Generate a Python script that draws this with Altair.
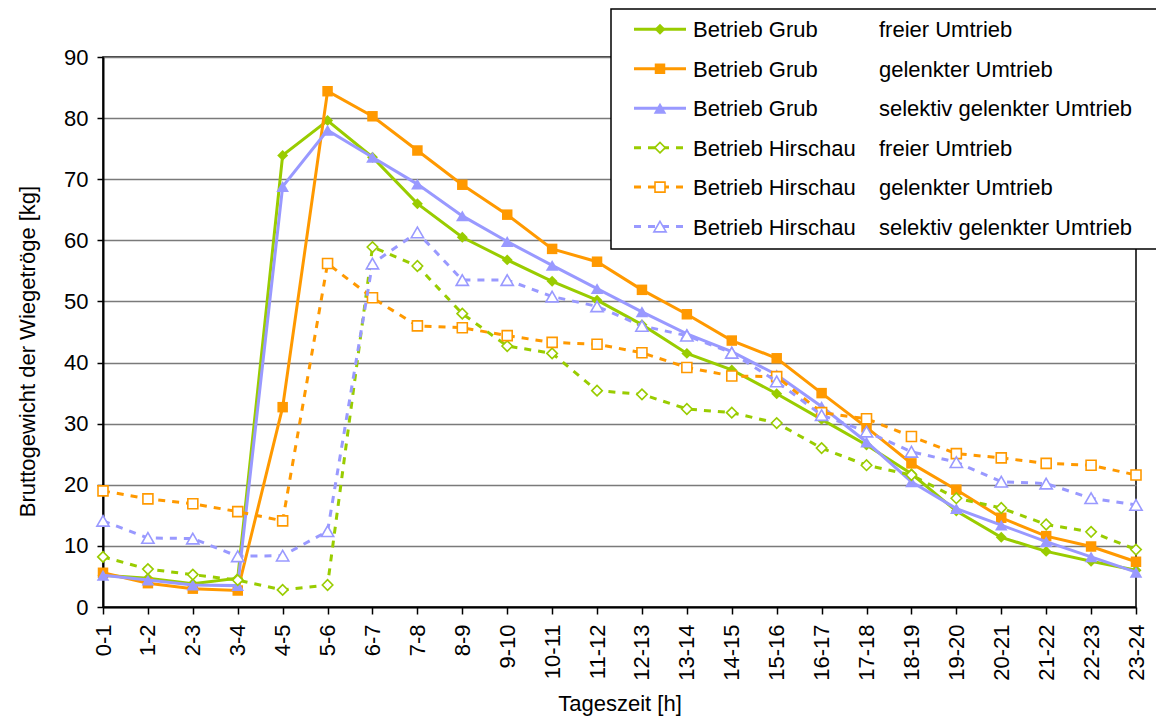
import altair as alt
import pandas as pd

# ---------------- data ----------------
categories = ["0-1", "1-2", "2-3", "3-4", "4-5", "5-6", "6-7", "7-8", "8-9", "9-10",
              "10-11", "11-12", "12-13", "13-14", "14-15", "15-16", "16-17", "17-18",
              "18-19", "19-20", "20-21", "21-22", "22-23", "23-24"]

betrieb = ["Betrieb Grub", "Betrieb Grub", "Betrieb Grub",
           "Betrieb Hirschau", "Betrieb Hirschau", "Betrieb Hirschau"]
umtrieb = ["freier Umtrieb", "gelenkter Umtrieb", "selektiv gelenkter Umtrieb",
           "freier Umtrieb", "gelenkter Umtrieb", "selektiv gelenkter Umtrieb"]

grub_frei = [5.2, 4.7, 3.8, 4.7, 73.9, 79.6, 73.6, 66.0, 60.5, 56.8, 53.3, 50.2,
             46.2, 41.5, 38.8, 34.9, 30.7, 26.5, 21.8, 15.7, 11.4, 9.1, 7.5, 6.0]
grub_gelenkt = [5.6, 3.9, 3.0, 2.7, 32.7, 84.4, 80.3, 74.7, 69.1, 64.2, 58.6, 56.5,
                51.9, 47.9, 43.6, 40.7, 35.0, 29.4, 23.5, 19.2, 14.6, 11.6, 9.9, 7.4]
grub_selektiv = [5.2, 4.4, 3.6, 3.5, 68.8, 78.0, 73.6, 69.2, 64.0, 59.8, 55.9, 52.1,
                 48.3, 44.7, 41.8, 38.0, 32.8, 27.0, 20.5, 16.1, 13.4, 10.7, 8.2, 5.7]
hirschau_frei = [8.2, 6.2, 5.3, 4.4, 2.8, 3.6, 58.9, 55.8, 48.0, 42.7, 41.5, 35.4,
                 34.8, 32.4, 31.8, 30.1, 26.0, 23.2, 21.6, 17.8, 16.2, 13.5, 12.3, 9.4]
hirschau_gelenkt = [19.0, 17.7, 16.9, 15.6, 14.1, 56.2, 50.6, 46.0, 45.7, 44.4, 43.3, 43.0,
                    41.6, 39.2, 37.8, 37.7, 31.8, 30.8, 27.9, 25.1, 24.4, 23.5, 23.2, 21.6]
hirschau_selektiv = [14.1, 11.3, 11.2, 8.3, 8.4, 12.4, 56.2, 61.3, 53.5, 53.5, 50.8, 49.2,
                     46.0, 44.4, 41.6, 36.9, 31.4, 28.7, 25.4, 23.7, 20.5, 20.2, 17.8, 16.7]

series_values = [grub_frei, grub_gelenkt, grub_selektiv,
                 hirschau_frei, hirschau_gelenkt, hirschau_selektiv]

# ---------------- styles ----------------
colors = ["#99CC00", "#FF9900", "#9999FF", "#99CC00", "#FF9900", "#9999FF"]
shapes = ["diamond", "square", "triangle-up", "diamond", "square", "triangle-up"]
sizes = [120, 110, 160, 110, 100, 150]
dashed = [False, False, False, True, True, True]
DASH = [7, 7]
FONT = "Liberation Sans"
FS = 22

W, H = 1033, 550

x_enc = alt.X("Tageszeit:N", sort=categories,
              scale=alt.Scale(type="point", padding=0, domain=categories),
              axis=alt.Axis(title="Tageszeit [h]", labelAngle=-90, tickSize=7,
                            labelPadding=10, titlePadding=13, grid=False))
y_enc = alt.Y("Wert:Q", scale=alt.Scale(domain=[0, 90], nice=False, zero=True),
              axis=alt.Axis(title="Bruttogewicht der Wiegetröge [kg]", values=list(range(0, 91, 10)),
                            tickSize=6, labelPadding=9, titlePadding=24, titleY=294,
                            grid=True, gridColor="#7a7a7a", gridWidth=1.5))

layers = []
for i, vals in enumerate(series_values):
    df = pd.DataFrame({"Tageszeit": categories, "Wert": vals,
                       "Serie": [betrieb[i] + " " + umtrieb[i]] * len(categories)})
    line_kw = dict(color=colors[i], strokeWidth=3)
    if dashed[i]:
        line_kw["strokeDash"] = DASH
    layers.append(alt.Chart(df).mark_line(**line_kw).encode(x=x_enc, y=y_enc))
    if dashed[i]:
        pt = alt.Chart(df).mark_point(shape=shapes[i], size=sizes[i], filled=True,
                                      fill="white", stroke=colors[i], strokeWidth=1.6,
                                      opacity=1)
    else:
        pt = alt.Chart(df).mark_point(shape=shapes[i], size=sizes[i], filled=True,
                                      color=colors[i], opacity=1)
    layers.append(pt.encode(x=x_enc, y=y_enc))

# ---------------- manual legend (two text columns) ----------------
one = pd.DataFrame({"k": [0]})
layers.append(alt.Chart(one).mark_rect(fill="white", stroke="black", strokeWidth=1.5).encode(
    x=alt.value(508), x2=alt.value(1070), y=alt.value(-48), y2=alt.value(192)))
for i in range(6):
    py = -27.7 + i * 39.45
    rule_kw = dict(color=colors[i], strokeWidth=3)
    if dashed[i]:
        rule_kw["strokeDash"] = DASH
    layers.append(alt.Chart(one).mark_rule(**rule_kw).encode(
        x=alt.value(531), x2=alt.value(583), y=alt.value(py)))
    if dashed[i]:
        mk = alt.Chart(one).mark_point(shape=shapes[i], size=sizes[i], filled=True,
                                       fill="white", stroke=colors[i], strokeWidth=1.6, opacity=1)
    else:
        mk = alt.Chart(one).mark_point(shape=shapes[i], size=sizes[i], filled=True,
                                       color=colors[i], opacity=1)
    layers.append(mk.encode(x=alt.value(557), y=alt.value(py)))
    layers.append(alt.Chart(one).mark_text(align="left", baseline="middle", font=FONT,
                                           fontSize=FS, color="black").encode(
        x=alt.value(590), y=alt.value(py + 1), text=alt.value(betrieb[i])))
    layers.append(alt.Chart(one).mark_text(align="left", baseline="middle", font=FONT,
                                           fontSize=FS, color="black").encode(
        x=alt.value(776), y=alt.value(py + 1), text=alt.value(umtrieb[i])))

chart = alt.layer(*layers).properties(
    width=W, height=H,
    autosize=alt.AutoSizeParams(type="none"),
    padding={"left": 103, "top": 57, "right": 20, "bottom": 110},
    background="white",
).configure_view(
    stroke="black", strokeWidth=1.5
).configure_axis(
    labelFont=FONT, titleFont=FONT, labelFontSize=FS, titleFontSize=FS,
    labelColor="black", titleColor="black", titleFontWeight="normal",
    domainColor="black", domainWidth=2, tickColor="black", tickWidth=1.5,
)

chart.save("out.html", embed_options={"renderer": "svg", "actions": False})
